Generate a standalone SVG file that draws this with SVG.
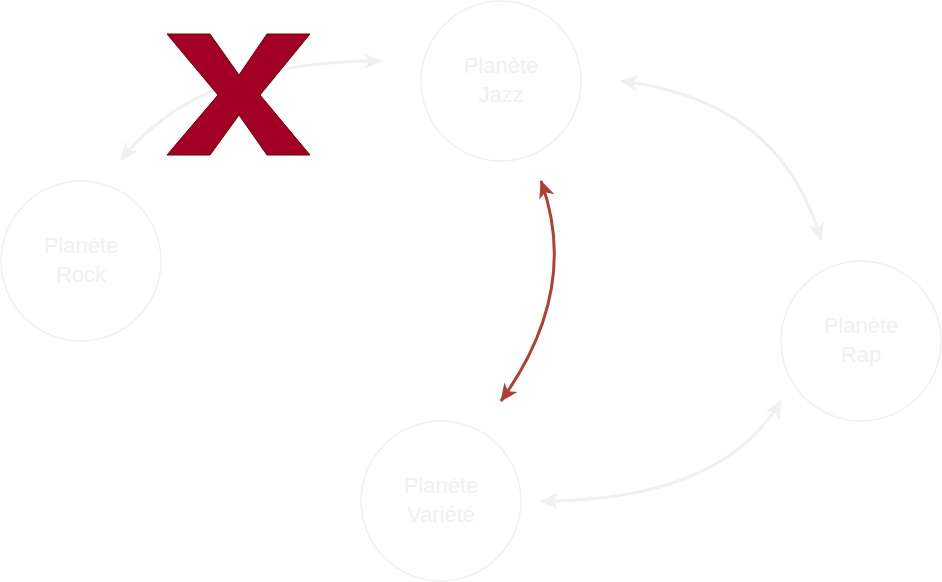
<svg xmlns="http://www.w3.org/2000/svg" width="942" height="582" viewBox="0 0 942 582">
<style>
.n{fill:#fff;stroke:#f0f0f0;stroke-width:1.5}
.t{font-family:"Liberation Sans",Arial,sans-serif;font-size:22px;fill:#f0f0f0;text-anchor:middle}
.e{fill:none;stroke:#f0f0f0;stroke-width:3}
.r{fill:none;stroke:#ae4132;stroke-width:3}
</style>
<defs>
<marker id="ar" viewBox="0 0 20 20" refX="17" refY="10" markerWidth="20" markerHeight="20" orient="auto-start-reverse" markerUnits="userSpaceOnUse"><path d="M0,2 L18,10 L0,18 L5,10 Z" fill="#ae4132"/></marker>
<marker id="ag" viewBox="0 0 20 20" refX="17" refY="10" markerWidth="20" markerHeight="20" orient="auto-start-reverse" markerUnits="userSpaceOnUse"><path d="M0,2 L18,10 L0,18 L5,10 Z" fill="#f0f0f0"/></marker>
</defs>
<g id="connectors">
<path class="e" d="M121,160 Q200,60 381,61" marker-start="url(#ag)" marker-end="url(#ag)"/>
<path class="e" d="M621,81 Q781,100 821,240" marker-start="url(#ag)" marker-end="url(#ag)"/>
<path class="e" d="M781,401 Q721,501 541,501" marker-start="url(#ag)" marker-end="url(#ag)"/>
<path class="r" d="M541,181 Q581,290 501,401" marker-start="url(#ar)" marker-end="url(#ar)"/>
</g>
<g id="jazz"><circle class="n" cx="501" cy="81" r="80"/><text class="t" x="501" y="73">Planète</text><text class="t" x="501" y="102">Jazz</text></g>
<g id="rock"><circle class="n" cx="81" cy="261" r="80"/><text class="t" x="81" y="253">Planète</text><text class="t" x="81" y="282">Rock</text></g>
<g id="rap"><circle class="n" cx="861" cy="341" r="80"/><text class="t" x="861" y="333">Planète</text><text class="t" x="861" y="362">Rap</text></g>
<g id="variete"><circle class="n" cx="441" cy="501" r="80"/><text class="t" x="441" y="493">Planète</text><text class="t" x="441" y="522">Variété</text></g>
<g id="cross"><polygon points="167,34 210,34 239,75 267,34 310,34 260,95 310,155 267,155 239,115 210,155 167,155 218,95" fill="#a20025" stroke="#6f0000" stroke-width="1"/></g>
</svg>
